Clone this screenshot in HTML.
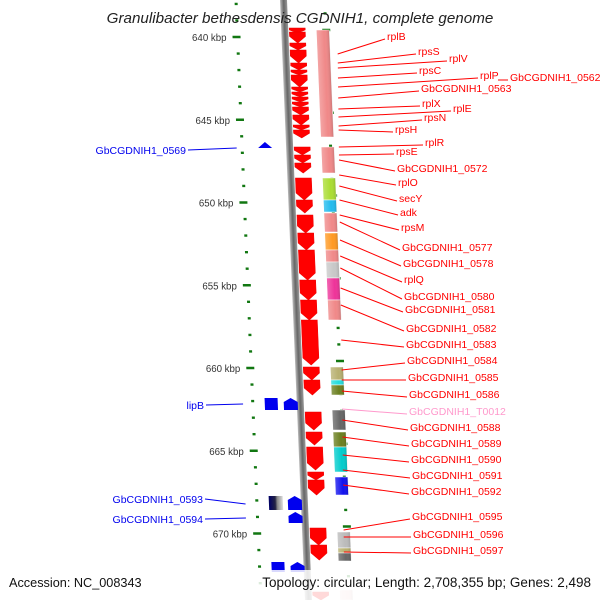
<!DOCTYPE html>
<html><head><meta charset="utf-8">
<style>
html,body{margin:0;padding:0;background:#fff;}
svg{display:block;font-family:"Liberation Sans","DejaVu Sans",sans-serif;}
</style></head>
<body>
<svg id="map" width="600" height="600" viewBox="0 0 600 600" xmlns="http://www.w3.org/2000/svg">
<defs>
<linearGradient id="bb" x1="0" x2="1"><stop offset="0" stop-color="#bbb"/><stop offset="0.5" stop-color="#666"/><stop offset="1" stop-color="#999"/></linearGradient>
<linearGradient id="shade" x1="0" x2="1"><stop offset="0" stop-color="#fff" stop-opacity="0.25"/><stop offset="0.6" stop-color="#fff" stop-opacity="0"/><stop offset="1" stop-color="#000" stop-opacity="0.15"/></linearGradient>
<linearGradient id="navy" x1="0" x2="1"><stop offset="0" stop-color="#000066"/><stop offset="0.45" stop-color="#222244"/><stop offset="0.6" stop-color="#888"/><stop offset="1" stop-color="#ddd"/></linearGradient>
</defs>
<g id="skew" transform="skewX(2.38)">
<rect x="280" y="0" width="7" height="600" fill="url(#bb)"/>
</g>
<g id="labels"></g>
<text x="300" y="23" text-anchor="middle" font-size="15.2" font-style="italic" fill="#222">Granulibacter bethesdensis CGDNIH1, complete genome</text>
<rect x="0" y="570" width="600" height="30" fill="#fff" fill-opacity="0.85"/>
<text x="9" y="587" font-size="12.7" fill="#111">Accession: NC_008343</text>
<text x="591" y="587" text-anchor="end" font-size="13.5" fill="#111">Topology: circular; Length: 2,708,355 bp; Genes: 2,498</text>
</svg>
<script>
const kbpTicks = [640,645,650,655,660,665,670];
const redGenes = [[28,33],[32,43],[43,50],[50,63],[63,70],[70,75],[75,87],[87,92],[92,97],[97,102],[102,107],[107,115],[115,125],[125,130],[130,138],[147,155],[155,163],[163,173],[178,200],[200,213],[215,233],[233,250],[250,280],[280,300],[300,320],[320,365],[367,380],[380,395],[412,430],[432,445],[447,470],[472,480],[480,495],[528,545],[545,560],[592,600]];
const boxStarts = [30,147,178,200,213,233,250,262,278,300,367,380,385,410,432,447,477,532,548,553,590];
const boxEnds   = [137,173,200,212,232,250,262,278,300,320,380,385,395,430,447,472,495,548,553,561,600];
const boxColors = ["#f08888","#f08888","#aadd33","#22bbee","#f08888","#ff9922","#f08888","#c8c8c8","#ee3399","#f08888","#b8b070","#22dddd","#6b7f1f","#666","#6b7f1f","#00cccc","#1111ee","#bbb","#b8b070","#666","#f4d0d0"];
const blueGenes = [[142,148,"tri"],[398,410,"box"],[398,410,"pent"],[496,510,"navy"],[496,510,"pent"],[512,523,"pent"],[562,572,"box"],[562,572,"pent"]];
const labelNames = ["rplB","rpsS","rplV","rpsC","rplP","GbCGDNIH1_0562","GbCGDNIH1_0563","rplX","rplE","rpsN","rpsH","rplR","rpsE","GbCGDNIH1_0572","rplO","secY","adk","rpsM","GbCGDNIH1_0577","GbCGDNIH1_0578","rplQ","GbCGDNIH1_0580","GbCGDNIH1_0581","GbCGDNIH1_0582","GbCGDNIH1_0583","GbCGDNIH1_0584","GbCGDNIH1_0585","GbCGDNIH1_0586","GbCGDNIH1_T0012","GbCGDNIH1_0588","GbCGDNIH1_0589","GbCGDNIH1_0590","GbCGDNIH1_0591","GbCGDNIH1_0592","GbCGDNIH1_0595","GbCGDNIH1_0596","GbCGDNIH1_0597"];
const labelX = [387,418,449,419,480,510,421,422,453,424,395,425,396,397,398,399,400,401,402,403,404,404,405,406,406,407,408,409,409,410,411,411,412,411,412,413,413];
const labelY = [40,55,62,74,79,81,92,107,112,121,133,146,155,172,186,202,216,231,251,267,283,300,313,332,348,364,381,398,415,431,447,463,479,495,520,538,554];
const geneY  = [54,63,68,78,87,88,98,109,117,126,130,147,155,160,175,186,200,215,222,240,256,268,288,305,340,370,380,391,409,420,437,455,470,485,530,537,552];
const blueNames = ["GbCGDNIH1_0569","lipB","GbCGDNIH1_0593","GbCGDNIH1_0594"];
const blueLabelY = [154,409,503,523];
const blueGeneY = [148,404,504,518];

const NS="http://www.w3.org/2000/svg";
const sk=document.getElementById('skew'), lab=document.getElementById('labels');
const yOf=k=>37+(k-640)*16.55;
const dx=y=>y*0.04157;
function mk(tag,attrs,parent){const e=document.createElementNS(NS,tag);for(const k in attrs)e.setAttribute(k,attrs[k]);parent.appendChild(e);return e;}

for(let k=637;k<=673;k++){
  const y=yOf(k), major=kbpTicks.includes(k);
  const t=mk('rect',{x:major?231:234.5,y:y-1.2,width:major?8:3,height:2.4,fill:'#117711'},sk);
  
  
  const y2=y-7;
  const t2=mk('rect',{x:major?321:323,y:y2-1.2,width:major?8:3,height:2.4,fill:'#117711'},sk);
  
  
}
kbpTicks.forEach(k=>{const y=yOf(k);
  const t=mk('text',{x:225+dx(y),y:y+4,'text-anchor':'end','font-size':9.7,fill:'#333'},lab);t.textContent=k+' kbp';
  
  
});
boxStarts.forEach((s,i)=>{
  const r=mk('rect',{x:315,y:s,width:13,height:boxEnds[i]-s,fill:boxColors[i],stroke:'#fff','stroke-width':0.6},sk);
  
  
  mk('rect',{x:315,y:s,width:13,height:boxEnds[i]-s,fill:'url(#shade)'},sk);
});
redGenes.forEach(([a,b])=>{
  const x=288,w=16,h=Math.min(7,(b-a)*0.6);
  const p=mk('polygon',{points:`${x},${a} ${x+w},${a} ${x+w},${b-h} ${x+w/2},${b} ${x},${b-h}`,fill:'#ff0000',stroke:'#e00','stroke-width':0.5},sk);
  
  
});
blueGenes.forEach(([a,b,t])=>{
  let e;
  if(t==='tri') e=mk('polygon',{points:`252,${b} 259,${a} 266,${b}`,fill:'#0000ee'},sk);
  else if(t==='box') e=mk('rect',{x:248,y:a,width:13,height:b-a,fill:'#0000ee'},sk);
  else if(t==='navy') e=mk('rect',{x:248,y:a,width:14,height:b-a,fill:'url(#navy)'},sk);
  else e=mk('polygon',{points:`267,${b} 267,${a+4} 274,${a} 281,${a+4} 281,${b}`,fill:'#0000ee'},sk);
  
  
});
labelNames.forEach((n,i)=>{
  const col=n.endsWith('T0012')?'#ff99cc':'#ff0000';
  const gy=geneY[i];
  if(n!=='GbCGDNIH1_0562'){
    const l=mk('line',{x1:337+dx(gy)*0.3,y1:gy,x2:labelX[i]-2,y2:labelY[i]-1,stroke:col,'stroke-width':1},lab);
    
    
  } else {
    mk('line',{x1:labelX[i]-12,y1:labelY[i]-1,x2:labelX[i]-2,y2:labelY[i]-1,stroke:col,'stroke-width':1},lab);
  }
  const t=mk('text',{x:labelX[i],y:labelY[i],'font-size':10.5,fill:col},lab);t.textContent=n;
  
  
});
blueNames.forEach((n,i)=>{
  const yy=blueLabelY[i], gy=blueGeneY[i];
  const right=n==='lipB'?204:n==='GbCGDNIH1_0569'?186:203;
  const t=mk('text',{x:right,y:yy,'text-anchor':'end','font-size':10.5,fill:'#0000ee'},lab);t.textContent=n;
  
  
  const l=mk('line',{x1:right+2,y1:yy-4,x2:233+dx(gy)*0.6,y2:gy,stroke:'#0000ee','stroke-width':1},lab);
  
  
});
</script>
</body></html>
